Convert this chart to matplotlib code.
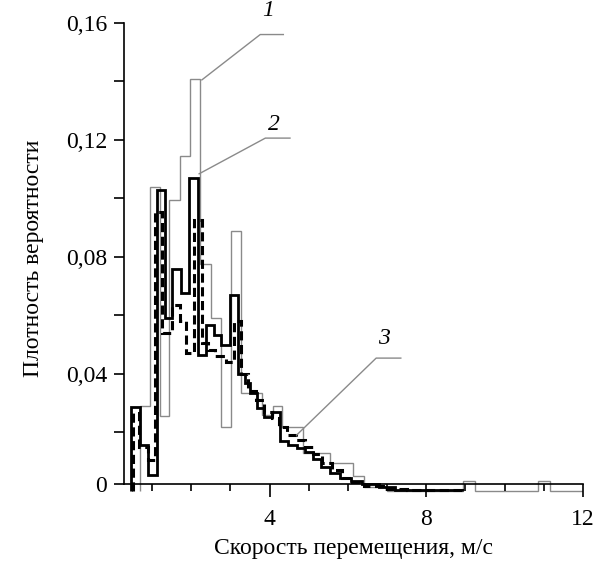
import numpy as np
import matplotlib.pyplot as plt

# curve 1 (thin grey histogram)
edges_1 = [0.68, 0.94, 1.21, 1.44, 1.70, 1.97, 2.23, 2.50, 2.75, 3.01, 3.28, 3.80,
           4.08, 4.31, 4.84, 5.54, 6.13, 6.42, 7.00, 8.95, 9.24, 10.85, 11.15, 12.00]
dens_1 = [0.029, 0.104, 0.0256, 0.0995, 0.1145, 0.1408, 0.0777, 0.059, 0.0219, 0.0887,
          0.0335, 0.026, 0.029, 0.0217, 0.013, 0.0095, 0.005, 0.0015, 0.0, 0.0033,
          0.0, 0.0033, 0.0]

# curve 2 (thick solid)
edges_2 = [0.47, 0.68, 0.89, 1.13, 1.33, 1.50, 1.74, 1.95, 2.18, 2.37, 2.58, 2.75,
           3.00, 3.20, 3.38, 3.51, 3.68, 3.85, 4.06, 4.27, 4.48, 4.69, 4.90, 5.10,
           5.32, 5.55, 5.80, 6.09, 6.35, 6.80, 7.20, 8.91]
dens_2 = [0.0288, 0.0157, 0.0055, 0.103, 0.059, 0.076, 0.0676, 0.107, 0.0465, 0.0567,
          0.0533, 0.0499, 0.067, 0.040, 0.037, 0.0334, 0.0283, 0.0254, 0.027, 0.0169,
          0.0157, 0.0146, 0.0134, 0.011, 0.0083, 0.006, 0.0045, 0.0035, 0.0022,
          0.0012, 0.0004]

# curve 3 (thick dashed)
edges_3 = [0.50, 0.66, 0.90, 1.07, 1.25, 1.50, 1.70, 1.86, 2.08, 2.27, 2.42, 2.60,
           2.88, 3.09, 3.26, 3.45, 3.65, 3.85, 4.05, 4.25, 4.45, 4.68, 4.90, 5.12,
           5.35, 5.60, 5.85, 6.10, 6.40, 6.90, 7.50, 8.90]
dens_3 = [0.0268, 0.015, 0.0106, 0.0955, 0.054, 0.0636, 0.058, 0.047, 0.0926, 0.0506,
          0.048, 0.046, 0.044, 0.058, 0.040, 0.034, 0.031, 0.027, 0.025, 0.022,
          0.019, 0.0175, 0.015, 0.0125, 0.0095, 0.007, 0.0045, 0.003, 0.0018,
          0.0008, 0.0003]

plt.rcParams['font.family'] = ['Liberation Serif', 'DejaVu Serif']
grey = '#8a8a8a'

fig = plt.figure(figsize=(5.96, 5.81), dpi=100)
ax = fig.add_axes([0.208, 0.150, 0.770, 0.8107])

ax.stairs(dens_1, edges_1, baseline=0, color=grey, lw=1.0)
ax.stairs(dens_3, edges_3, baseline=0, color='black', lw=2.2, linestyle=(0, (3, 1.5)))
ax.stairs(dens_2, edges_2, baseline=0, color='black', lw=2.0)

ax.set_xlim(0.28, 12)
ax.set_ylim(-0.001, 0.16)
ax.spines['top'].set_visible(False)
ax.spines['right'].set_visible(False)
ax.spines['bottom'].set_position(('data', 0.0025))
ax.spines['left'].set_bounds(0.0025, 0.16)
for s in ['left', 'bottom']:
    ax.spines[s].set_linewidth(1.2)

ax.set_xticks([4, 8, 12], ['4', '8', '12'])
ax.set_xticks([1, 2, 3, 5, 6, 7, 9, 10, 11], minor=True)
ax.set_yticks([0.0025, 0.04, 0.08, 0.12, 0.16], ['0', '0,04', '0,08', '0,12', '0,16'])
ax.set_yticks([0.02, 0.06, 0.10, 0.14], minor=True)
ax.tick_params(axis='x', which='major', length=9, width=1.2, labelsize=17, pad=9)
ax.tick_params(axis='x', which='minor', length=5, width=1.2)
ax.tick_params(axis='y', which='both', length=7, width=1.2, labelsize=17, pad=5)

ax.set_xlabel('Скорость перемещения, м/с', fontsize=17, labelpad=6)
ax.set_ylabel('Плотность вероятности', fontsize=17, labelpad=16)

# leader lines with curve numbers
ax.plot([2.27, 3.76, 4.35], [0.1405, 0.156, 0.156], color=grey, lw=1.0, clip_on=False)
ax.text(3.95, 0.1605, '1', fontsize=17, fontstyle='italic', ha='center', va='bottom')
ax.plot([2.20, 3.89, 4.52], [0.1084, 0.1206, 0.1206], color=grey, lw=1.0, clip_on=False)
ax.text(4.12, 0.1215, '2', fontsize=17, fontstyle='italic', ha='center', va='bottom')
ax.plot([4.69, 6.72, 7.35], [0.0191, 0.0454, 0.0454], color=grey, lw=1.0, clip_on=False)
ax.text(6.93, 0.0485, '3', fontsize=17, fontstyle='italic', ha='center', va='bottom')

fig.savefig('out.png', dpi=100)
